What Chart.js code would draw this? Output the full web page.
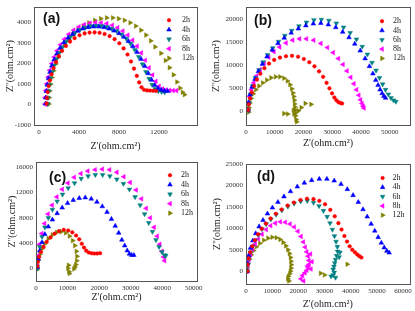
<!DOCTYPE html>
<html>
<head>
<meta charset="utf-8">
<script src="https://cdn.jsdelivr.net/npm/chart.js@4.4.0/dist/chart.umd.min.js"></script>
<style>
  html, body { margin: 0; padding: 0; background: #fff; }
  #wrap { position: relative; width: 415px; height: 311px; overflow: hidden; }
  canvas { position: absolute; }
</style>
</head>
<body>
<div id="wrap">
  <canvas id="pa" width="207" height="155" style="left:0;top:0"></canvas>
  <canvas id="pb" width="208" height="155" style="left:207px;top:0"></canvas>
  <canvas id="pc" width="207" height="156" style="left:0;top:155px"></canvas>
  <canvas id="pd" width="208" height="156" style="left:207px;top:155px"></canvas>
</div>
<script>
// series labels, one per immersion time
const seriesNames = ['2h', '4h', '6h', '8h', '12h'];

// tick labels for each panel
const xTicksA = [0, 4000, 8000, 12000];
const yTicksA = [-1000, 0, 1000, 2000, 3000, 4000];
const xTicksB = [0, 10000, 20000, 30000, 40000, 50000];
const yTicksB = [0, 5000, 10000, 15000, 20000];
const xTicksC = [0, 10000, 20000, 30000, 40000, 50000];
const yTicksC = [0, 4000, 8000, 12000, 16000];
const xTicksD = [0, 10000, 20000, 30000, 40000, 50000, 60000];
const yTicksD = [0, 5000, 10000, 15000, 20000, 25000];

// (a) points [Z', Z'']
const a2h = [[760,50],[790,320],[860,610],[960,900],[1090,1180],[1260,1480],[1460,1780],[1710,2080],[1990,2360],[2310,2620],[2690,2860],[3110,3070],[3560,3240],[4060,3380],[4560,3470],[5060,3510],[5560,3520],[6060,3500],[6560,3440],[7060,3340],[7560,3190],[8030,2990],[8460,2740],[8850,2440],[9200,2100],[9500,1750],[9780,1400],[10020,1080],[10250,840],[10500,720],[10800,690],[11100,680],[11400,670],[11700,660]];
const a4h = [[650,40],[670,330],[730,650],[820,960],[940,1270],[1090,1580],[1280,1890],[1510,2190],[1790,2480],[2110,2760],[2480,3020],[2900,3250],[3360,3440],[3860,3590],[4380,3700],[4910,3770],[5440,3800],[5970,3800],[6500,3770],[7000,3700],[7500,3600],[8000,3470],[8480,3300],[8940,3090],[9380,2840],[9800,2550],[10200,2220],[10580,1870],[10930,1520],[11260,1200],[11580,940],[11900,790],[12220,710],[12540,670],[12860,650]];
const a6h = [[880,30],[900,330],[960,650],[1050,960],[1170,1280],[1320,1600],[1510,1910],[1740,2220],[2020,2520],[2350,2800],[2720,3070],[3140,3300],[3600,3500],[4100,3650],[4620,3760],[5150,3830],[5680,3850],[6210,3840],[6740,3790],[7260,3710],[7760,3590],[8250,3430],[8720,3220],[9160,2970],[9580,2670],[9970,2330],[10340,1970],[10690,1600],[11010,1260],[11310,970],[11620,770],[11940,660],[12260,620],[12560,600]];
const a8h = [[600,20],[620,340],[690,680],[790,1010],[920,1340],[1080,1670],[1280,2000],[1520,2320],[1810,2630],[2150,2920],[2540,3190],[2980,3430],[3470,3630],[3990,3790],[4530,3900],[5090,3970],[5650,4000],[6210,3990],[6770,3950],[7320,3870],[7860,3750],[8380,3590],[8880,3390],[9360,3140],[9810,2850],[10230,2520],[10630,2160],[11000,1790],[11350,1440],[11680,1130],[12000,890],[12350,760],[12700,710],[13050,690],[13400,680],[13750,680]];
const a12h = [[980,20],[1000,330],[1060,660],[1160,990],[1290,1320],[1460,1650],[1670,1980],[1920,2300],[2220,2610],[2570,2900],[2970,3170],[3420,3420],[3910,3640],[4440,3830],[5000,3990],[5580,4110],[6170,4190],[6770,4230],[7370,4230],[7960,4190],[8550,4110],[9120,3990],[9670,3830],[10200,3630],[10700,3390],[11170,3110],[11610,2810],[12200,2500],[12650,2150],[13050,1800],[13450,1450],[13800,1100],[14100,800],[14350,600],[14550,480]];

// (b)
const b2h = [[800,300],[1000,1500],[1400,2800],[2000,4100],[2800,5500],[3800,6900],[5000,8200],[6400,9400],[8000,10400],[9800,11200],[11800,11700],[13900,12000],[16000,12100],[18100,11900],[20100,11400],[22000,10700],[23800,9800],[25400,8700],[26800,7500],[28000,6200],[29000,5000],[29900,3900],[30700,3000],[31400,2400],[32100,2000],[32800,1800],[33400,1700]];
const b4h = [[700,300],[900,1900],[1400,3600],[2100,5300],[3100,7000],[4300,8700],[5700,10300],[7300,11900],[9100,13400],[11100,14800],[13300,16000],[15700,17100],[18200,18000],[20800,18700],[23400,19100],[26000,19200],[28600,18900],[31200,18300],[33600,17300],[35800,16100],[37800,14700],[39700,13200],[41400,11500],[42900,9800],[44100,8200],[45100,6800],[45900,5700],[46600,4700],[47300,3900],[47900,3300],[48500,2900]];
const b6h = [[900,200],[1100,1900],[1600,3700],[2300,5500],[3300,7300],[4500,9000],[5900,10700],[7500,12300],[9300,13800],[11300,15200],[13500,16500],[15900,17600],[18400,18600],[21000,19400],[23600,19900],[26200,20000],[28800,19800],[31400,19200],[33900,18300],[36200,17100],[38400,15700],[40400,14100],[42200,12400],[43800,10600],[45200,8900],[46400,7300],[47500,5900],[48500,4700],[49500,3700],[50400,2900],[51300,2400],[52100,2100]];
const b8h = [[700,200],[900,1700],[1300,3200],[1900,4700],[2700,6200],[3700,7700],[4900,9100],[6300,10500],[7900,11800],[9700,13000],[11700,14000],[13900,14900],[16200,15500],[18600,15800],[21000,15800],[23500,15500],[26000,14800],[28300,13900],[30300,12800],[32100,11500],[33700,10200],[35100,8800],[36400,7400],[37500,6000],[38400,4700],[39200,3500],[39800,2500],[40300,1700],[40700,1100],[41000,700]];
const b12h = [[900,-200],[1000,800],[1300,1800],[1800,2800],[2500,3800],[3400,4700],[4500,5500],[5800,6200],[7200,6800],[8700,7300],[10300,7500],[11800,7500],[13200,7200],[14400,6600],[15300,5800],[15900,4900],[16300,4000],[16600,3200],[16800,2400],[16900,1600],[17000,900],[17100,300],[17300,-300],[17200,-1000],[17400,-1800],[17600,-2300],[16700,-600],[16500,200],[18200,100],[19200,800],[20600,1700],[22600,1500],[13200,-500],[14500,-600]];

// (c)
const c2h = [[400,300],[600,1000],[1000,1800],[1600,2600],[2400,3400],[3400,4200],[4600,4900],[5900,5500],[7300,5900],[8800,6100],[10200,6000],[11500,5700],[12700,5200],[13700,4600],[14500,3900],[15200,3300],[15900,2800],[16700,2500],[17600,2400],[18500,2350],[19400,2350],[20300,2400]];
const c4h = [[400,200],[700,1500],[1200,2800],[1900,4100],[2800,5400],[3900,6600],[5200,7700],[6700,8700],[8300,9600],[10000,10300],[11800,10800],[13700,11100],[15600,11200],[17500,11000],[19300,10500],[21000,9800],[22500,8900],[23900,7800],[25100,6700],[26200,5600],[27200,4500],[28100,3600],[28900,2800],[29600,2300],[30300,2100],[31000,2100]];
const c6h = [[500,0],[700,1700],[1200,3400],[1900,5000],[2800,6500],[3900,8000],[5200,9300],[6700,10600],[8400,11700],[10200,12700],[12200,13500],[14300,14200],[16500,14600],[18800,14800],[21100,14800],[23400,14600],[25600,14100],[27700,13400],[29600,12500],[31400,11300],[33000,10000],[34400,8600],[35700,7200],[36900,5800],[38000,4500],[39000,3400],[39900,2600],[40700,2100],[41100,2000]];
const c8h = [[400,300],[600,2000],[1100,3800],[1800,5500],[2700,7100],[3800,8600],[5100,10000],[6600,11300],[8300,12500],[10100,13500],[12100,14400],[14200,15000],[16400,15400],[18700,15600],[21000,15700],[23300,15600],[25600,15200],[27800,14500],[29800,13600],[31700,12400],[33400,11000],[34900,9500],[36200,8000],[37400,6500],[38400,5100],[39200,3800],[39900,2700],[40400,1800],[40700,1200]];
const c12h = [[300,-200],[400,500],[700,1300],[1200,2200],[1900,3100],[2800,3900],[3900,4700],[5200,5300],[6600,5700],[8000,5800],[9400,5600],[10600,5100],[11600,4400],[12300,3600],[12800,2700],[13000,1900],[12900,1200],[12600,600],[12300,200],[12000,-100],[10300,500],[10100,0],[10400,-500],[10600,-800]];

// (d)
const d2h = [[500,0],[600,1500],[1000,3000],[1600,4400],[2400,5800],[3400,7200],[4600,8600],[6000,9900],[7600,11100],[9400,12300],[11400,13400],[13600,14400],[15900,15300],[18300,16000],[20800,16600],[23300,16900],[25800,16800],[28000,16400],[30200,15600],[32200,14300],[33900,12800],[35300,11200],[36500,9700],[37600,8200],[38600,6900],[39600,5800],[40600,5000],[41600,4400],[42500,3900],[43300,3500],[44100,3200]];
const d4h = [[500,0],[600,1800],[1000,3600],[1700,5400],[2600,7100],[3700,8800],[5000,10400],[6500,11900],[8200,13400],[10100,14800],[12200,16100],[14500,17400],[17000,18600],[19600,19700],[22300,20600],[25100,21200],[28000,21500],[30900,21500],[33700,21100],[36300,20300],[38700,19100],[40900,17700],[42900,16100],[44700,14400],[46300,12700],[47800,11000],[49200,9400],[50500,7900],[51700,6600],[52800,5500],[53800,4700],[54700,4300]];
const d6h = [[500,0],[700,1500],[1100,3000],[1700,4400],[2500,5800],[3500,7200],[4700,8500],[6100,9800],[7700,11000],[9500,12100],[11500,13200],[13700,14200],[16000,15100],[18400,15800],[20900,16300],[23400,16400],[25800,16000],[27900,15200],[29600,14100],[31000,12700],[32100,11200],[33000,9700],[33800,8200],[34400,6900],[34900,5700],[35000,4600],[34600,3600],[34200,2700],[33900,1900],[33600,1100],[33300,400],[33700,-300],[33300,-900],[32500,-1200],[34200,-1500],[35600,3300],[35900,4400]];
const d8h = [[500,0],[700,1300],[1100,2600],[1700,3900],[2500,5100],[3500,6300],[4700,7500],[6100,8600],[7700,9700],[9400,10600],[11200,11200],[13100,11500],[15000,11400],[16800,11000],[18400,10300],[19800,9300],[21000,8100],[21900,6800],[22600,5600],[23200,4500],[23700,3500],[24000,2500],[24100,1600],[23800,800],[23200,200],[22500,-400],[21600,-1000],[21000,-1800],[22000,-2300],[24600,4000],[25200,2200],[24800,500],[23500,1200]];
const d12h = [[400,-200],[500,800],[800,1800],[1300,2800],[2000,3800],[2900,4800],[4000,5700],[5300,6500],[6800,7200],[8400,7700],[10000,7900],[11600,7800],[13000,7400],[14200,6700],[15200,5900],[16000,5000],[16600,4100],[17000,3200],[17200,2300],[17300,1500],[17200,700],[17000,0],[16700,-600],[16200,-1200],[16000,-1800],[16400,-2300],[28500,-500],[30000,-900],[38700,1600]];

// marker look per series
const seriesColors = ['#ff0000', '#0000ff', '#008080', '#ff00ff', '#808000'];
const seriesShapes = ['circle', 'triangle', 'triangle', 'triangle', 'triangle'];
const seriesRotations = [0, 0, 180, 270, 90];

Chart.defaults.font.family = '"Liberation Serif", "Times New Roman", serif';

// box around the plot area
const framePlugin = {
  id: 'frame',
  afterDraw(chart) {
    const { ctx, chartArea: a } = chart;
    ctx.save();
    ctx.strokeStyle = '#555';
    ctx.lineWidth = 1;
    ctx.strokeRect(Math.round(a.left) + 0.5, Math.round(a.top) + 0.5, Math.round(a.right - a.left), Math.round(a.bottom - a.top));
    ctx.restore();
  }
};

// legend inside the top right corner
const insideLegend = {
  id: 'insideLegend',
  afterDraw(chart, args, o) {
    const { ctx, chartArea: a } = chart;
    ctx.save();
    ctx.font = '8px "Liberation Serif"';
    ctx.textBaseline = 'middle';
    chart.data.datasets.forEach((ds, i) => {
      const y = a.top + o.top + i * o.gap;
      const x = a.right - o.mark;
      ctx.fillStyle = ds.pointBackgroundColor;
      ctx.strokeStyle = ds.pointBorderColor;
      ctx.lineWidth = ds.pointBorderWidth;
      if (Chart.helpers && Chart.helpers.drawPoint) {
        Chart.helpers.drawPoint(ctx, { pointStyle: ds.pointStyle, rotation: ds.pointRotation, radius: ds.pointRadius, borderWidth: ds.pointBorderWidth }, x, y);
      } else {
        ctx.beginPath(); ctx.arc(x, y, ds.pointRadius, 0, Math.PI * 2); ctx.fill();
      }
      ctx.fillStyle = '#222';
      ctx.fillText(ds.label, a.right - o.text, y);
    });
    ctx.restore();
  }
};

// (a), (b) ... tag
const panelLabel = {
  id: 'panelLabel',
  afterDraw(chart, args, o) {
    const { ctx, chartArea: a } = chart;
    ctx.save();
    ctx.font = 'bold 14px "Liberation Sans", Arial, sans-serif';
    ctx.fillStyle = '#111';
    ctx.textBaseline = 'middle';
    ctx.fillText(o.text, a.left + o.dx, a.top + o.dy);
    ctx.restore();
  }
};

function drawPanel(id, sets, p) {
  new Chart(document.getElementById(id), {
    type: 'scatter',
    data: {
      datasets: sets.map((d, i) => ({
        label: seriesNames[i],
        data: d,
        pointStyle: seriesShapes[i],
        pointRotation: seriesRotations[i],
        pointRadius: i === 0 ? 1.8 : 2.7,
        pointBackgroundColor: seriesColors[i],
        pointBorderColor: seriesColors[i],
        pointBorderWidth: 0.5
      }))
    },
    options: {
      responsive: false,
      animation: false,
      devicePixelRatio: 1,
      layout: { padding: p.pad },
      plugins: {
        legend: { display: false },
        tooltip: { enabled: false },
        insideLegend: p.legend,
        panelLabel: p.label
      },
      scales: {
        x: {
          type: 'linear',
          min: p.xMin,
          max: p.xMax,
          afterBuildTicks: ax => { ax.ticks = p.xTicks.map(v => ({ value: v })); },
          afterFit: s => { s.height = p.xH; },
          grid: { display: false, drawTicks: false },
          border: { display: false },
          ticks: { font: { size: 7 }, color: '#333', padding: 3, maxRotation: 0, autoSkip: false, callback: v => String(v) },
          title: { display: true, text: "Z'(ohm.cm²)", font: { size: 10 }, color: '#222', padding: 0 }
        },
        y: {
          type: 'linear',
          min: p.yMin,
          max: p.yMax,
          afterBuildTicks: ax => { ax.ticks = p.yTicks.map(v => ({ value: v })); },
          afterFit: s => { s.width = p.yW; },
          grid: { display: false, drawTicks: false },
          border: { display: false },
          ticks: { font: { size: 7 }, color: '#333', padding: 3, autoSkip: false, callback: v => String(v) },
          title: { display: true, text: "Z''(ohm.cm²)", font: { size: 10 }, color: '#222', padding: 0 }
        }
      }
    },
    plugins: [framePlugin, insideLegend, panelLabel]
  });
}

drawPanel('pa', [a2h, a4h, a6h, a8h, a12h], {
  xMin: -500, xMax: 15800, yMin: -1000, yMax: 4750,
  xTicks: xTicksA, yTicks: yTicksA,
  pad: { left: 4, top: 3, right: 10, bottom: 3 }, xH: 27, yW: 30,
  legend: { mark: 28, text: 15, top: 13, gap: 9.5 },
  label: { text: '(a)', dx: 9, dy: 12 }
});
drawPanel('pb', [b2h, b4h, b6h, b8h, b12h], {
  xMin: 0, xMax: 57000, yMin: -3000, yMax: 22700,
  xTicks: xTicksB, yTicks: yTicksB,
  pad: { left: 3, top: 3, right: 5, bottom: 6 }, xH: 24, yW: 36,
  legend: { mark: 28, text: 17, top: 14, gap: 9.3 },
  label: { text: '(b)', dx: 8, dy: 14 }
});
drawPanel('pc', [c2h, c4h, c6h, c8h, c12h], {
  xMin: 0, xMax: 51000, yMin: -2000, yMax: 16800,
  xTicks: xTicksC, yTicks: yTicksC,
  pad: { left: 6, top: 6, right: 10, bottom: 8 }, xH: 22, yW: 30,
  legend: { mark: 27, text: 16, top: 13, gap: 9.5 },
  label: { text: '(c)', dx: 13, dy: 16 }
});
drawPanel('pd', [d2h, d4h, d6h, d8h, d12h], {
  xMin: 0, xMax: 62500, yMin: -3000, yMax: 25000,
  xTicks: xTicksD, yTicks: yTicksD,
  pad: { left: 4, top: 9, right: 5, bottom: 1 }, xH: 26, yW: 35,
  legend: { mark: 27, text: 17, top: 14, gap: 9.3 },
  label: { text: '(d)', dx: 11, dy: 13 }
});
</script>
</body>
</html>
